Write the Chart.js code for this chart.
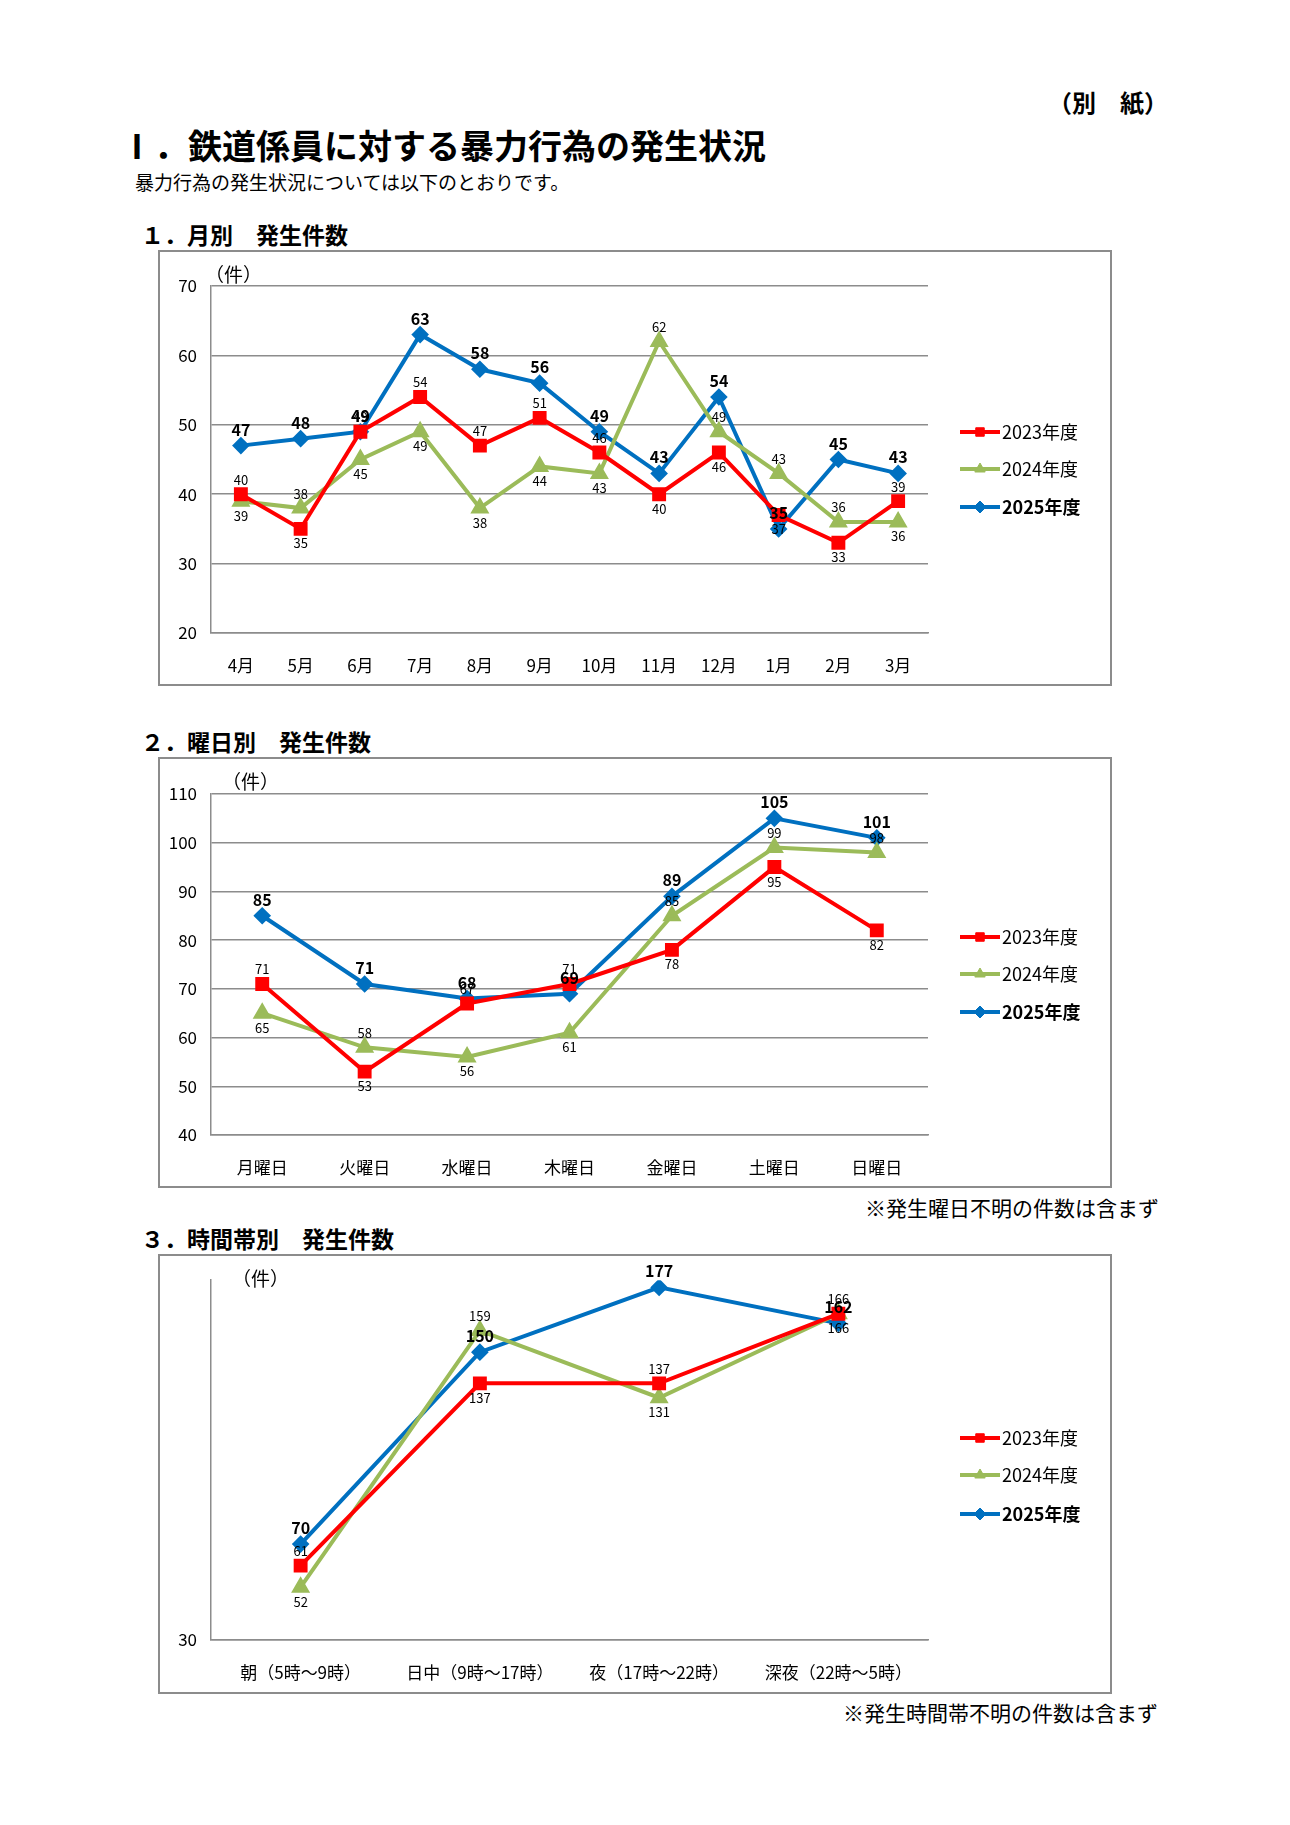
<!DOCTYPE html>
<html><head><meta charset="utf-8">
<script src="https://cdn.jsdelivr.net/npm/chart.js@4"></script>
<style>
body{margin:0;width:1290px;height:1825px;background:#fff;position:relative;font-family:"Noto Sans CJK JP",sans-serif;color:#000}
.t{position:absolute;white-space:nowrap}
.box{position:absolute;left:158px;width:954px;border:2px solid #8c8c8c;box-sizing:border-box}
canvas{position:absolute;left:0;top:0}
</style></head><body>
<div class="t" style="left:1048px;top:84px;font-size:24px;font-weight:bold">（別　紙）</div>
<div class="t" style="left:120px;top:120px;font-size:34px;font-weight:bold">Ⅰ．鉄道係員に対する暴力行為の発生状況</div>
<div class="t" style="left:135px;top:168px;font-size:19px">暴力行為の発生状況については以下のとおりです。</div>
<div class="t" style="left:141px;top:217px;font-size:23px;font-weight:bold">１．月別　発生件数</div>
<div class="t" style="left:141px;top:724px;font-size:23px;font-weight:bold">２．曜日別　発生件数</div>
<div class="t" style="left:141px;top:1221px;font-size:23px;font-weight:bold">３．時間帯別　発生件数</div>
<div class="t" style="left:865px;top:1192px;font-size:21px">※発生曜日不明の件数は含まず</div>
<div class="t" style="left:843px;top:1697px;font-size:21px">※発生時間帯不明の件数は含まず</div>
<div class="box" style="top:250px;height:436px"><canvas id="c1" width="950" height="432"></canvas><div class="t" style="left:45px;top:8px;font-size:19px">（件）</div></div>
<div class="box" style="top:757px;height:431px"><canvas id="c2" width="950" height="427"></canvas><div class="t" style="left:62px;top:8px;font-size:19px">（件）</div></div>
<div class="box" style="top:1254px;height:440px"><canvas id="c3" width="950" height="436"></canvas><div class="t" style="left:72px;top:8px;font-size:19px">（件）</div></div>
<script>
const seriesNames=['2023年度','2024年度','2025年度'];
const months=['4月','5月','6月','7月','8月','9月','10月','11月','12月','1月','2月','3月'];
const m2023=[40,35,49,54,47,51,46,40,46,37,33,39];
const m2024=[39,38,45,49,38,44,43,62,49,43,36,36];
const m2025=[47,48,49,63,58,56,49,43,54,35,45,43];
const days=['月曜日','火曜日','水曜日','木曜日','金曜日','土曜日','日曜日'];
const d2023=[71,53,67,71,78,95,82];
const d2024=[65,58,56,61,85,99,98];
const d2025=[85,71,68,69,89,105,101];
const times=['朝（5時～9時）','日中（9時～17時）','夜（17時～22時）','深夜（22時～5時）'];
const t2023=[61,137,137,166];
const t2024=[52,159,131,166];
const t2025=[70,150,177,162];
const FONT='"Noto Sans CJK JP", sans-serif';
const colors=['#ff0000','#9bbb59','#0070c0'];
const styles=['rect','triangle','rectRot'];

const labelPlugin={id:'lbl',afterDatasetsDraw(ch){
  const c=ch.ctx;c.save();c.textAlign='center';
  const ds=ch.data.datasets;
  const opt=ch.options.plugins.lbl;
  ds.forEach((d,i)=>{
    const meta=ch.getDatasetMeta(i);
    meta.data.forEach((p,j)=>{
      if(opt.skip && opt.skip(i,j)) return;
      const v=d.data[j];let above;
      if(i===2){above=true;c.font='bold 16px '+FONT;}
      else{const o=ds[1-i].data[j];above=v>o||(v===o&&i===0);c.font='13px '+FONT;}
      c.fillStyle='#000';c.textBaseline=above?'bottom':'top';
      c.fillText(String(v),p.x,above?p.y-8:p.y+8);
    });
  });
  const lx=ch.chartArea.right+32,ys=opt.legendY;
  ds.forEach((d,i)=>{
    const y=ys[i];c.strokeStyle=d.borderColor;c.lineWidth=4;
    c.beginPath();c.moveTo(lx,y);c.lineTo(lx+40,y);c.stroke();
    c.fillStyle=d.borderColor;c.strokeStyle=d.borderColor;c.lineWidth=1;
    Chart.helpers.drawPoint(c,{pointStyle:d.pointStyle,radius:6,borderWidth:1},lx+20,y);
    c.fillStyle='#000';c.font=(i===2?'bold ':'')+'18px '+FONT;c.textAlign='left';c.textBaseline='middle';
    c.fillText(d.label,lx+42,y);c.textAlign='center';
  });
  c.restore();
}};

function make(id,labels,data,min,max,step,padTop,xH,legendY,skip){
  const top=max===180?170:max;
  new Chart(document.getElementById(id),{type:'line',plugins:[labelPlugin],
    data:{labels,datasets:data.map((d,i)=>({label:seriesNames[i],data:d,borderColor:colors[i],backgroundColor:colors[i],
      borderWidth:4,pointStyle:styles[i],pointRadius:i===2?6:7,tension:0}))},
    options:{responsive:false,animation:false,devicePixelRatio:1,
      layout:{padding:{top:padTop,right:182,left:0,bottom:0}},
      plugins:{legend:{display:false},tooltip:{enabled:false},lbl:{legendY,skip}},
      scales:{
        x:{offset:true,grid:{display:false},border:{color:'#8c8c8c',width:1.5},
          ticks:{font:{family:FONT,size:17},color:'#000',padding:14,maxRotation:0,autoSkip:false},
          afterFit:s=>{s.height=xH;}},
        y:{min,max,grid:{color:'#8c8c8c',lineWidth:1.5,drawTicks:false},border:{display:true,color:'#8c8c8c',width:1.5},
          ticks:{stepSize:step,font:{family:FONT,size:17},color:'#000',padding:14},
          afterBuildTicks:s=>{s.ticks=s.ticks.filter(t=>(t.value-min)%step===0&&t.value<=top);},
          afterFit:s=>{s.width=51;}}
      }}});
}
make('c1',months,[m2023,m2024,m2025],20,70,10,34,51,[180,217,255],(i,j)=>(i===1&&j===2)||(i===0&&j===9));
make('c2',days,[d2023,d2024,d2025],40,110,10,35,51,[178,215,253],null);
make('c3',times,[t2023,t2024,t2025],30,180,20,22,52,[182,219,258],(i,j)=>i===1&&j===3);
</script>
</body></html>
